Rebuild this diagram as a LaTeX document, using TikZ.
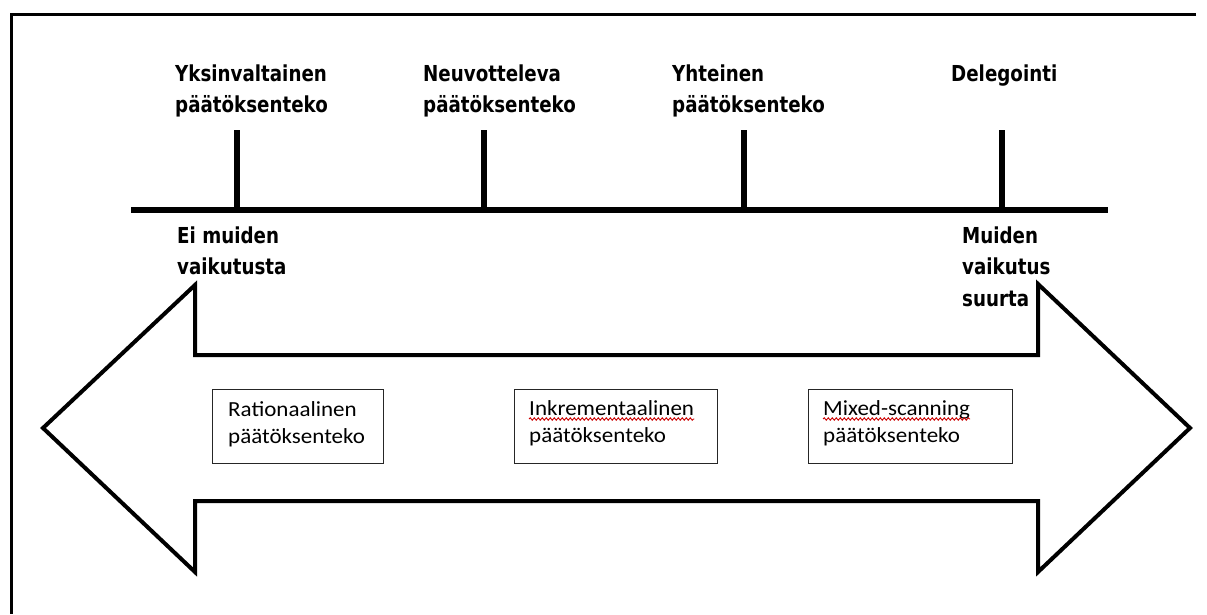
\documentclass[tikz,border=0pt]{standalone}
\usepackage{fontspec}
\usetikzlibrary{decorations.pathmorphing}
\newfontfamily\labfont[FakeStretch=0.83]{DejaVu Sans}
\newfontfamily\boxfont[FakeStretch=1.07]{Carlito}
% lines of a label, the node's baseline being that of the first line
\newcommand\textlines[1]{\vtop{\halign{##\hfil\cr#1\crcr}}}
\tikzset{
  lbl/.style={font=\labfont\bfseries\fontsize{22}{31.5}\selectfont, inner sep=0pt, anchor=base west},
  tickline/.style={line width=6pt},
  boxframe/.style={draw=black!85, line width=1.4pt, inner sep=0pt, anchor=north west, minimum height=74pt},
  boxtxt/.style={font=\boxfont\fontsize{21.5}{27}\selectfont, inner sep=0pt, anchor=base west},
  squiggle/.style={draw=red!80!black, line width=0.9pt, decorate, decoration={snake, amplitude=1.2pt, segment length=4pt}},
}
\begin{document}
\begin{tikzpicture}[x=1pt, y=-1pt]
  \fill[white] (0,0) rectangle (1207,614);
  \useasboundingbox (0,0) rectangle (1207,614);
  % outer frame: only its top and left sides fall inside the page
  \coordinate (frameTR) at (1196,14);
  \coordinate (frameTL) at (11,14);
  \coordinate (frameBL) at (11,614);
  \draw[line width=3pt] (frameTR) -- (frameTL) -- (frameBL);

  % scale line with its four marks
  \coordinate (axL) at (131,210);
  \coordinate (axR) at (1108,210);
  \draw[line width=6pt] (axL) -- (axR);
  \foreach \name/\x in {t1/237, t2/484, t3/744, t4/1002} {
    \coordinate (\name top) at (\x,130);
    \coordinate (\name bot) at (\x,210);
    \draw[tickline] (\name top) -- (\name bot);
  }

  % labels above the scale
  \node[lbl] (yks) at (175,81) {\textlines{Yksinvaltainen\cr päätöksenteko}};
  \node[lbl] (neu) at (423,81) {\textlines{Neuvotteleva\cr päätöksenteko}};
  \node[lbl] (yht) at (672,81) {\textlines{Yhteinen\cr päätöksenteko}};
  \node[lbl] (del) at (951,81) {\textlines{Delegointi}};

  % labels at the ends of the scale
  \node[lbl] (ei) at (177,243) {\textlines{Ei muiden\cr vaikutusta}};
  \node[lbl] (mu) at (962,243) {\textlines{Muiden\cr vaikutus\cr suurta}};

  % double-headed block arrow
  \draw[line width=4pt, line join=miter]
    (43,428) -- (195,285) -- (195,355) -- (1038,355) -- (1038,284)
    -- (1190,428) -- (1038,572) -- (1038,501) -- (195,501) -- (195,572) -- cycle;

  % decision-making models inside the arrow
  \node[boxframe, minimum width=171pt] (rbox) at (212,389) {};
  \node[boxframe, minimum width=203pt] (ibox) at (514,389) {};
  \node[boxframe, minimum width=204pt] (mbox) at (808,389) {};
  \node[boxtxt] (rtext) at ([shift={(16,27)}]rbox.north west) {\textlines{Rationaalinen\cr päätöksenteko}};
  \node[boxtxt] (itext) at ([shift={(15,26)}]ibox.north west) {\textlines{Inkrementaalinen\cr päätöksenteko}};
  \node[boxtxt] (mtext) at ([shift={(15,26)}]mbox.north west) {\textlines{Mixed-scanning\cr päätöksenteko}};

  % spell-check underlines
  \draw[squiggle] ([yshift=-4pt]itext.base west) -- ([yshift=-4pt]itext.base east);
  \draw[squiggle] ([yshift=-4pt]mtext.base west) -- ([yshift=-4pt]mtext.base east);
\end{tikzpicture}
\end{document}
